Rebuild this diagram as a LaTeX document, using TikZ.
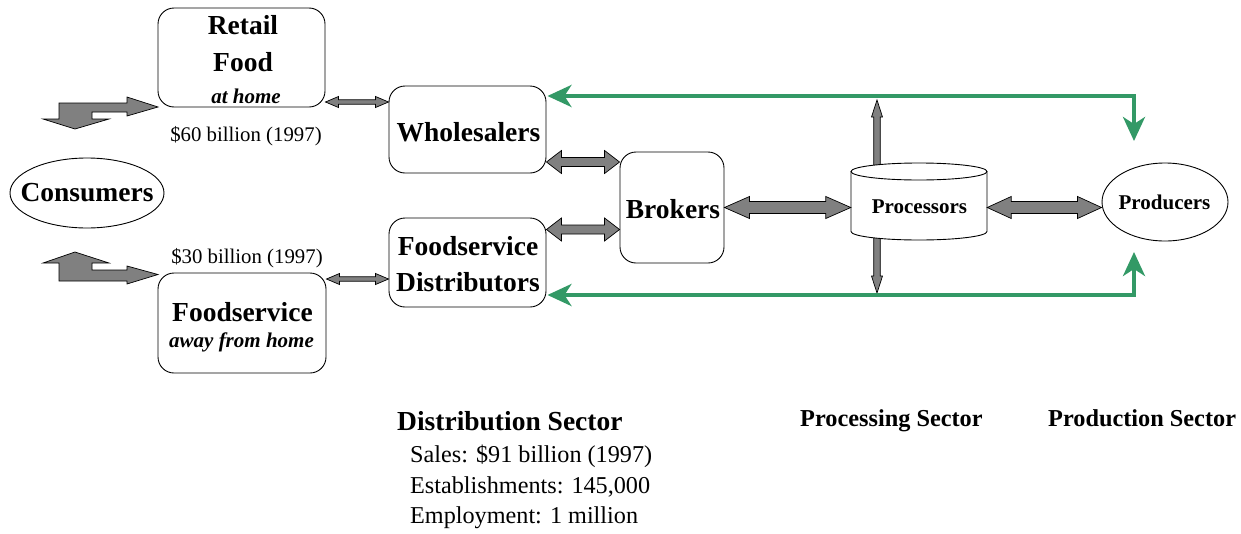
\documentclass[tikz,border=0pt]{standalone}
\usepackage{fontspec}
\setmainfont{Liberation Serif}
\usetikzlibrary{shapes.geometric,arrows.meta,calc}

\definecolor{flowgreen}{RGB}{51,153,102}
\definecolor{arrowgray}{RGB}{128,128,128}

\tikzset{
  box/.style={draw, line width=0.9pt, rounded corners=16pt, inner sep=0pt},
  fatarrow/.style={draw=black, line width=0.7pt, fill=arrowgray, line join=miter},
  gline/.style={draw=flowgreen, line width=3.8pt,
    {Stealth[length=24pt,width=22pt,inset=7pt]}-{Stealth[length=24pt,width=22pt,inset=7pt]}},
  big/.style={font=\fontsize{27.5}{30}\selectfont\bfseries, inner sep=0pt, anchor=base},
  mid/.style={font=\fontsize{21}{24}\selectfont\bfseries, inner sep=0pt, anchor=base},
  midit/.style={font=\fontsize{21}{24}\selectfont\bfseries\itshape, inner sep=0pt, anchor=base},
  money/.style={font=\fontsize{20.8}{24}\selectfont, inner sep=0pt, anchor=base},
  sector/.style={font=\fontsize{24.3}{28}\selectfont\bfseries, inner sep=0pt, anchor=base west},
  stat/.style={font=\fontsize{24.2}{28}\selectfont, inner sep=0pt, anchor=base west},
}

% horizontal double-headed block arrow: start, end, shaft half-width, head half-width, head length
\newcommand\hdbl[5]{%
  \draw[fatarrow] let \p1=(#1), \p2=(#2) in
    (\x1,\y1) -- (\x1+#5pt,\y1+#4pt) -- (\x1+#5pt,\y1+#3pt) -- (\x2-#5pt,\y1+#3pt)
    -- (\x2-#5pt,\y1+#4pt) -- (\x2,\y1) -- (\x2-#5pt,\y1-#4pt) -- (\x2-#5pt,\y1-#3pt)
    -- (\x1+#5pt,\y1-#3pt) -- (\x1+#5pt,\y1-#4pt) -- cycle;}
% vertical single-headed block arrow: tail, tip, shaft half-width, head half-width, head length
\newcommand\vsgl[5]{%
  \draw[fatarrow] let \p1=(#1), \p2=(#2), \n1={ifthenelse(\y2>\y1,1,-1)} in
    (\x1-#3pt,\y1) -- (\x1-#3pt,\y2-\n1*#5pt) -- (\x1-#4pt,\y2-\n1*#5pt) -- (\x1,\y2)
    -- (\x1+#4pt,\y2-\n1*#5pt) -- (\x1+#3pt,\y2-\n1*#5pt) -- (\x1+#3pt,\y1) -- cycle;}

\begin{document}
\begin{tikzpicture}[x=1pt,y=-1pt]
\useasboundingbox (0,0) rectangle (1241,533);

% ---- boxes ----
\node[box, minimum width=167pt, minimum height=99pt] (retail) at (241.5,57.5) {};
\node[box, minimum width=168pt, minimum height=100pt] (food) at (242,323) {};
\node[box, minimum width=157pt, minimum height=87pt] (whole) at (467.5,129.5) {};
\node[box, minimum width=157pt, minimum height=89pt] (fdist) at (467.5,262.5) {};
\node[box, minimum width=104pt, minimum height=111pt] (brokers) at (672,207.5) {};
\node[ellipse, draw, line width=0.9pt, minimum width=154pt, minimum height=70pt, inner sep=0pt] (cons) at (87,193) {};
\node[ellipse, draw, line width=0.9pt, minimum width=126pt, minimum height=78pt, inner sep=0pt] (prod) at (1165,202) {};
\node[minimum width=136pt, minimum height=77pt, inner sep=0pt] (proc) at (919,201.5) {};

% ---- arrows into and out of the processors ----
\coordinate (upTip) at (877,100);
\coordinate (downTip) at (877,293);
\vsgl{877,190}{upTip}{3.3}{5.5}{17}
\vsgl{877,215}{downTip}{3.3}{5.5}{17}

% processors drawn as a cylinder
\fill[white] (851,171.5) -- (851,231.5) arc[start angle=180,end angle=360,x radius=68pt,y radius=8.5pt] -- (987,171.5) arc[start angle=0,end angle=180,x radius=68pt,y radius=8.5pt] -- cycle;
\draw[line width=0.9pt] (851,171.5) -- (851,231.5) arc[start angle=180,end angle=360,x radius=68pt,y radius=8.5pt] -- (987,171.5);
\draw[line width=0.9pt] (919,171.5) ellipse[x radius=68pt,y radius=8.5pt];

% ---- consumer flows ----
\draw[fatarrow] (59,103) -- (127,103) -- (127,97) -- (158,107) -- (127,116) -- (127,112)
  -- (92,112) -- (92,119) -- (109,119) -- (75,129) -- (43,119) -- (59,119) -- cycle;
\draw[fatarrow] (75,252) -- (109,263) -- (92,263) -- (92,270) -- (127,270) -- (127,266)
  -- (158,274.5) -- (127,284) -- (127,281) -- (59,281) -- (59,263) -- (43,263) -- cycle;

% ---- trade links ----
\hdbl{retail.east |- 0,102}{whole.west |- 0,102}{2.2}{5.5}{13}
\hdbl{food.east |- 0,279}{fdist.west |- 0,279}{2.2}{5.5}{13}
\hdbl{whole.east |- 0,162}{brokers.west |- 0,162}{4.5}{11.5}{15}
\hdbl{fdist.east |- 0,229.5}{brokers.west |- 0,229.5}{4.5}{11.5}{15}
\hdbl{brokers.east |- 0,207.5}{proc.west |- 0,207.5}{6}{11}{25}
\hdbl{proc.east |- 0,207.5}{prod.west |- 0,207.5}{6}{11}{24}

% ---- product flows back from producers ----
\coordinate (gTop) at (1134,96);
\coordinate (gBot) at (1134,295);
\coordinate (prodTop) at (1134,141);
\coordinate (prodBot) at (1134,252);
\draw[gline] (prodTop) -- (gTop) -- ([xshift=1pt]whole.east |- gTop);
\draw[gline] (prodBot) -- (gBot) -- ([xshift=1pt]fdist.east |- gBot);

% ---- labels ----
\node[big] (tRetail) at (243,34) {Retail};
\node[big] (tFood) at (243,71) {Food};
\node[midit] (tHome) at (246,103) {at home};
\node[money] (tSixty) at (246,141) {\$60 billion (1997)};
\node[big] (tCons) at (87,201) {Consumers};
\node[money] (tThirty) at (247,263) {\$30 billion (1997)};
\node[big] (tFoodsvc) at (242.5,321) {Foodservice};
\node[midit] (tAway) at (241.5,347) {away from home};
\node[big] (tWhole) at (468.5,141) {Wholesalers};
\node[big] (tFd1) at (468,255) {Foodservice};
\node[big] (tFd2) at (468,291) {Distributors};
\node[big] (tBrok) at (673,218) {Brokers};
\node[mid] (tProc) at (919.5,213) {Processors};
\node[mid] (tProd) at (1164.5,209) {Producers};

\node[sector, font=\fontsize{27.5}{30}\selectfont\bfseries] (tDist) at (397,430) {Distribution Sector};
\node[stat] (tSales) at (410,462) {Sales: \$91 billion (1997)};
\node[stat] (tEst) at (410,493) {Establishments: 145,000};
\node[stat] (tEmp) at (410,523) {Employment: 1 million};
\node[sector] (tProcS) at (800,426) {Processing Sector};
\node[sector] (tProdS) at (1048,426) {Production Sector};
\end{tikzpicture}
\end{document}
